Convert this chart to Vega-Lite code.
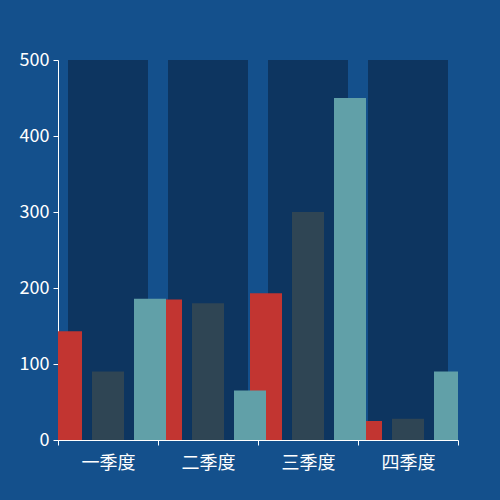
{
  "$schema": "https://vega.github.io/schema/vega-lite/v6.json",
  "width": 400,
  "height": 380,
  "autosize": {"type": "none"},
  "padding": {"left": 58, "top": 60, "right": 42, "bottom": 60},
  "background": "#14508c",
  "data": {
    "values": [
      {"quarter": "一季度", "series": "系列1", "value": 143},
      {"quarter": "二季度", "series": "系列1", "value": 185},
      {"quarter": "三季度", "series": "系列1", "value": 193},
      {"quarter": "四季度", "series": "系列1", "value": 25},
      {"quarter": "一季度", "series": "系列2", "value": 90},
      {"quarter": "二季度", "series": "系列2", "value": 180},
      {"quarter": "三季度", "series": "系列2", "value": 300},
      {"quarter": "四季度", "series": "系列2", "value": 28},
      {"quarter": "一季度", "series": "系列3", "value": 186},
      {"quarter": "二季度", "series": "系列3", "value": 65},
      {"quarter": "三季度", "series": "系列3", "value": 450},
      {"quarter": "四季度", "series": "系列3", "value": 90}
    ]
  },
  "encoding": {
    "x": {
      "field": "quarter",
      "type": "nominal",
      "sort": ["一季度", "二季度", "三季度", "四季度"],
      "scale": {"paddingInner": 0, "paddingOuter": 0},
      "axis": {
        "title": null,
        "labelAngle": 0,
        "tickBand": "extent",
        "labelPadding": 9,
        "tickSize": 5
      }
    }
  },
  "layer": [
    {
      "mark": {"type": "bar", "color": "#0d3560", "width": {"band": 0.8}},
      "encoding": {
        "y": {
          "datum": 500,
          "type": "quantitative",
          "scale": {"domain": [0, 500]},
          "axis": {"title": null, "values": [0, 100, 200, 300, 400, 500], "grid": false, "tickSize": 5, "labelPadding": 4}
        }
      }
    },
    {
      "mark": {"type": "bar", "clip": true},
      "encoding": {
        "xOffset": {
          "field": "series",
          "type": "nominal",
          "scale": {"range": [-8, 108], "paddingInner": 0.238, "paddingOuter": 0}
        },
        "y": {"field": "value", "type": "quantitative"},
        "color": {
          "field": "series",
          "type": "nominal",
          "scale": {"range": ["#c23531", "#2f4554", "#61a0a8"]},
          "legend": null
        }
      }
    }
  ],
  "config": {
    "view": {"stroke": null},
    "axis": {
      "domainColor": "#ffffff",
      "tickColor": "#ffffff",
      "labelColor": "#ffffff",
      "labelFont": "Noto Sans CJK SC",
      "labelFontSize": 18,
      "domainWidth": 1,
      "tickWidth": 1
    }
  }
}
